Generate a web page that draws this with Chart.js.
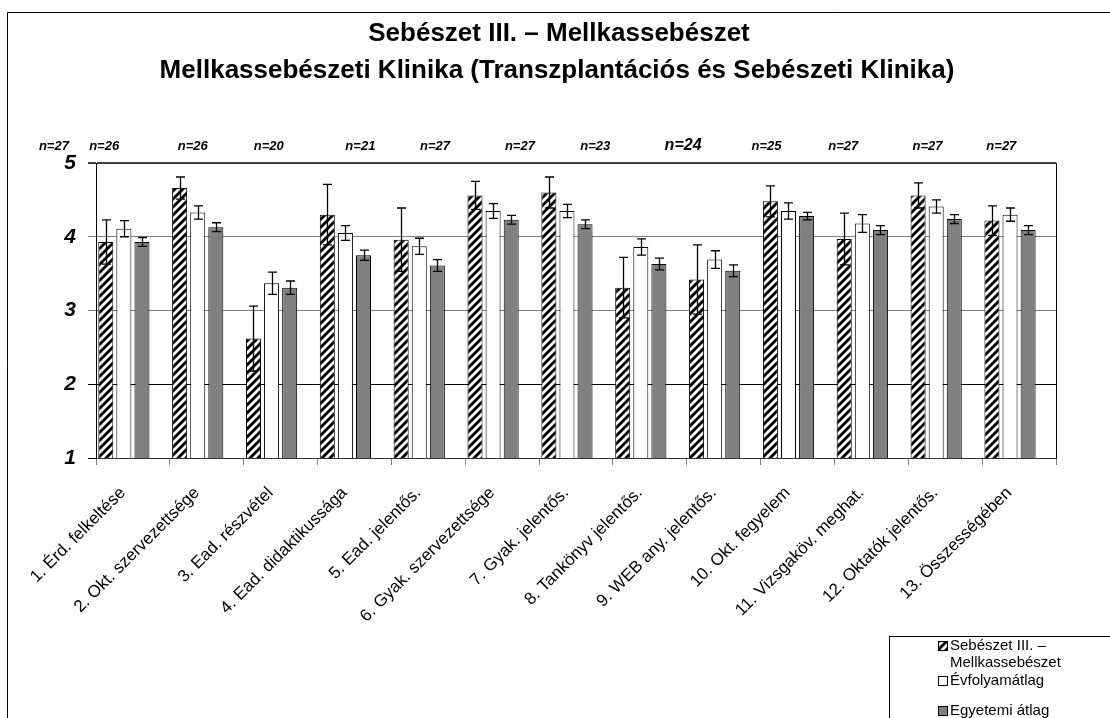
<!DOCTYPE html>
<html><head><meta charset="utf-8">
<script src="https://cdn.jsdelivr.net/npm/chart.js@4.4.1/dist/chart.umd.min.js"></script>
<style>html,body{margin:0;padding:0;background:#fff;}#wrap{width:1110px;height:718px;position:relative;}</style>
</head><body><div id="wrap"><canvas id="c" width="1110" height="718"></canvas></div>
<script>
const titleLines = ["Sebészet III. – Mellkassebészet", "Mellkassebészeti Klinika (Transzplantációs és Sebészeti Klinika)"];
const categories = ["1. Érd. felkeltése","2. Okt. szervezettsége","3. Ead. részvétel","4. Ead. didaktikussága","5. Ead. jelentős.","6. Gyak. szervezettsége","7. Gyak. jelentős.","8. Tankönyv jelentős.","9. WEB any. jelentős.","10. Okt. fegyelem","11. Vizsgaköv. meghat.","12. Oktatók jelentős.","13. Összességében"];
const seriesNames = ["Sebészet III. –\nMellkassebészet", "Évfolyamátlag", "Egyetemi átlag"];
const klinika    = [3.93, 4.66, 2.62, 4.30, 3.96, 4.56, 4.60, 3.31, 3.42, 4.48, 3.97, 4.56, 4.22];
const klinikaErr = [0.30, 0.15, 0.44, 0.41, 0.43, 0.19, 0.21, 0.41, 0.47, 0.21, 0.35, 0.17, 0.20];
const evfolyam    = [4.11, 4.33, 3.37, 4.05, 3.87, 4.35, 4.35, 3.86, 3.69, 4.35, 4.18, 4.41, 4.30];
const evfolyamErr = [0.11, 0.09, 0.15, 0.10, 0.11, 0.10, 0.09, 0.11, 0.12, 0.11, 0.12, 0.09, 0.09];
const egyetem    = [3.93, 4.13, 3.31, 3.75, 3.61, 4.23, 4.17, 3.63, 3.54, 4.28, 4.09, 4.24, 4.09];
const egyetemErr = [0.06, 0.06, 0.09, 0.07, 0.08, 0.06, 0.06, 0.08, 0.08, 0.05, 0.06, 0.06, 0.06];
const nLabels = ["n=27","n=26","n=26","n=20","n=21","n=27","n=27","n=23","n=24","n=25","n=27","n=27","n=27"];
const nLabelPos = [-1.07, -0.39, 0.81, 1.84, 3.08, 4.09, 5.24, 6.26, 7.45, 8.58, 9.62, 10.76, 11.76];
const yTicks = [1, 2, 3, 4, 5];

const FONT = "'Liberation Sans', Arial, sans-serif";

function makeHatch() {
  const t = 8;
  const c = document.createElement('canvas');
  c.width = t; c.height = t;
  const g = c.getContext('2d');
  g.fillStyle = '#000'; g.fillRect(0, 0, t, t);
  g.strokeStyle = '#fff'; g.lineWidth = 2.8;
  g.beginPath();
  g.moveTo(0, t); g.lineTo(t, 0);
  g.moveTo(-t/2, t/2); g.lineTo(t/2, -t/2);
  g.moveTo(t/2, t*1.5); g.lineTo(t*1.5, t/2);
  g.stroke();
  return document.getElementById('c').getContext('2d').createPattern(c, 'repeat');
}
const hatch = makeHatch();
const errs = [klinikaErr, evfolyamErr, egyetemErr];

const bgPlugin = {
  id: 'bg',
  beforeDraw(chart) {
    const ctx = chart.ctx;
    ctx.save(); ctx.fillStyle = '#fff'; ctx.fillRect(0, 0, chart.width, chart.height); ctx.restore();
  }
};

const errorBarPlugin = {
  id: 'errorBars',
  afterDatasetsDraw(chart) {
    const ctx = chart.ctx, ys = chart.scales.y;
    ctx.save();
    ctx.strokeStyle = '#000'; ctx.lineWidth = 1.3;
    for (let d = 0; d < 3; d++) {
      const meta = chart.getDatasetMeta(d);
      const vals = chart.data.datasets[d].data;
      meta.data.forEach((el, i) => {
        const v = vals[i], e = errs[d][i];
        const x = Math.round(el.x) + 0.5;
        const yt = ys.getPixelForValue(v + e), yb = ys.getPixelForValue(v - e);
        ctx.beginPath();
        ctx.moveTo(x, yt); ctx.lineTo(x, yb);
        ctx.moveTo(x - 4.5, yt); ctx.lineTo(x + 4.5, yt);
        ctx.moveTo(x - 4.5, yb); ctx.lineTo(x + 4.5, yb);
        ctx.stroke();
      });
    }
    ctx.restore();
  }
};

const decoPlugin = {
  id: 'deco',
  afterDraw(chart) {
    const ctx = chart.ctx, a = chart.chartArea, xs = chart.scales.x;
    ctx.save();
    // outer frame
    ctx.strokeStyle = '#000'; ctx.lineWidth = 1;
    ctx.beginPath(); ctx.moveTo(7.5, 718); ctx.lineTo(7.5, 12.5); ctx.lineTo(1110, 12.5); ctx.stroke();
    // right plot border
    ctx.beginPath(); ctx.moveTo(Math.round(a.right) + 0.5, a.top); ctx.lineTo(Math.round(a.right) + 0.5, a.bottom); ctx.stroke();
    // title
    ctx.fillStyle = '#000'; ctx.textAlign = 'center'; ctx.textBaseline = 'middle';
    ctx.font = 'bold 26px ' + FONT;
    ctx.fillText(titleLines[0], 559, 34);
    ctx.fillText(titleLines[1], 557, 71);
    // n labels
    nLabels.forEach((t, i) => {
      ctx.font = (t === 'n=24' ? 'bold italic 16px ' : 'bold italic 13px ') + FONT;
      ctx.fillText(t, xs.getPixelForValue(nLabelPos[i]), 146);
    });
    // legend
    ctx.strokeStyle = '#000';
    ctx.strokeRect(889.5, 636.5, 400, 200);
    ctx.textAlign = 'left';
    ctx.font = '15px ' + FONT;
    const fills = [hatch, '#fff', '#808080'];
    const rows = [[646, 663], [681], [711]];
    const texts = [["Sebészet III. –", "Mellkassebészet"], ["Évfolyamátlag"], ["Egyetemi átlag"]];
    for (let k = 0; k < 3; k++) {
      const my = rows[k][0];
      ctx.fillStyle = fills[k];
      ctx.fillRect(938, my - 5, 10, 10);
      ctx.strokeStyle = '#000'; ctx.lineWidth = 1;
      ctx.strokeRect(938.5, my - 4.5, 9, 9);
      ctx.fillStyle = '#000';
      texts[k].forEach((t, j) => ctx.fillText(t, 950, rows[k][j]));
    }
    ctx.restore();
  }
};

new Chart(document.getElementById('c'), {
  type: 'bar',
  data: {
    labels: categories,
    datasets: [
      { label: seriesNames[0], data: klinika, backgroundColor: hatch, borderColor: '#000', borderWidth: 1, borderSkipped: false },
      { label: seriesNames[1], data: evfolyam, backgroundColor: '#fff', borderColor: '#000', borderWidth: 1, borderSkipped: false },
      { label: seriesNames[2], data: egyetem, backgroundColor: '#808080', borderColor: '#000', borderWidth: 1, borderSkipped: false },
      { label: '', data: categories.map(() => null), backgroundColor: 'rgba(0,0,0,0)' }
    ]
  },
  options: {
    responsive: false,
    animation: false,
    devicePixelRatio: 1,
    layout: { padding: { left: 0, right: 54, top: 163, bottom: 0 } },
    datasets: { bar: { categoryPercentage: 0.98, barPercentage: 0.83 } },
    plugins: { legend: { display: false }, title: { display: false }, tooltip: { enabled: false } },
    scales: {
      x: {
        offset: true,
        afterFit(s) { s.height = 260; },
        grid: { display: true, drawOnChartArea: false, drawTicks: true, tickLength: 7, offset: true, color: '#808080' },
        border: { display: true, color: '#333', width: 1 },
        ticks: { autoSkip: false, minRotation: 45, maxRotation: 45, color: '#000', font: { family: FONT, size: 17 }, padding: 18, labelOffset: -10 }
      },
      y: {
        min: 1, max: 5,
        afterFit(s) { s.width = 96; },
        afterBuildTicks(s) { s.ticks = yTicks.map(v => ({ value: v })); },
        grid: {
          color: c => (c.tick && c.tick.value === 5) ? '#404040' : ((c.tick && (c.tick.value === 4 || c.tick.value === 3)) ? '#808080' : '#000'),
          lineWidth: c => (c.tick && c.tick.value === 5) ? 2 : 1,
          tickLength: 8, drawTicks: true
        },
        border: { display: true, color: '#000', width: 1 },
        ticks: { color: '#000', padding: 12, font: { family: FONT, size: 21, style: 'italic', weight: 'bold' } }
      }
    }
  },
  plugins: [bgPlugin, errorBarPlugin, decoPlugin]
});
</script></body></html>
